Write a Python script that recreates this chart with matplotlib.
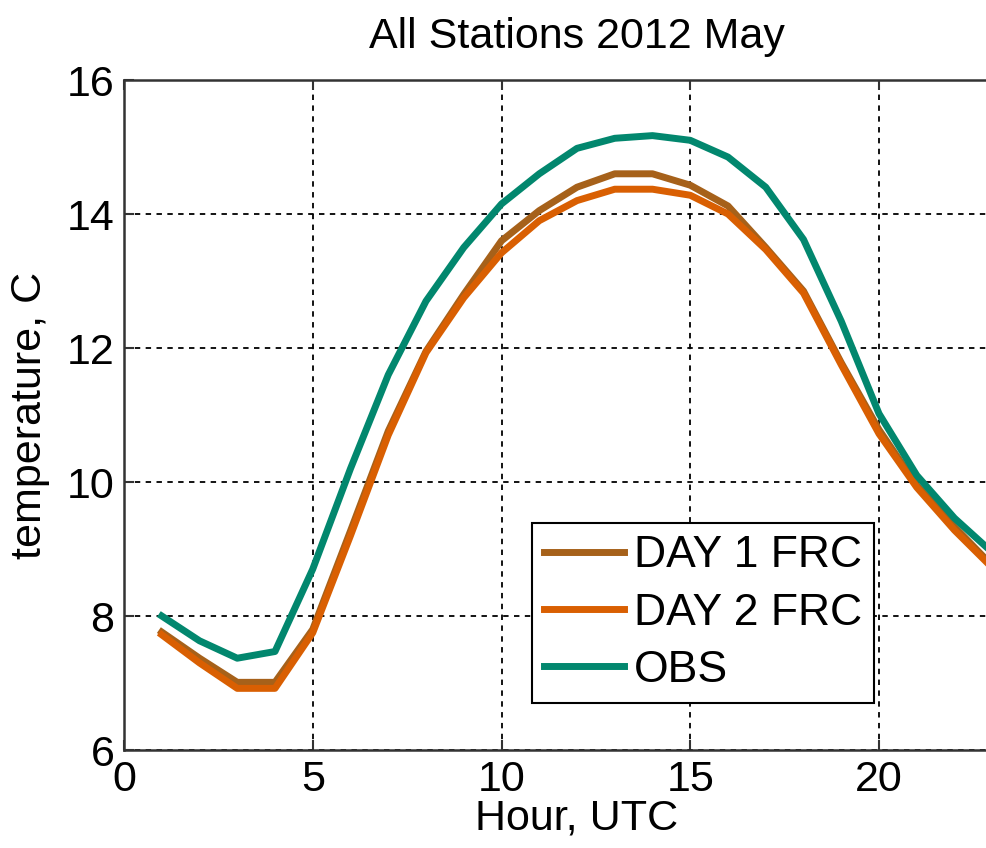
import numpy as np
import matplotlib
matplotlib.use('Agg')
import matplotlib.pyplot as plt

# ------------------------------------------------------------------------
# hourly mean temperature, all stations, May 2012
hours = [1, 2, 3, 4, 5, 6, 7, 8, 9, 10, 11, 12,
         13, 14, 15, 16, 17, 18, 19, 20, 21, 22, 23]

day1_frc = [7.76, 7.37, 7.01, 7.01, 7.80, 9.27, 10.76, 11.95, 12.80, 13.60, 14.05, 14.40,
            14.60, 14.60, 14.43, 14.12, 13.50, 12.85, 11.78, 10.78, 9.95, 9.33, 8.75]
day2_frc = [7.72, 7.30, 6.92, 6.92, 7.75, 9.20, 10.70, 11.93, 12.75, 13.42, 13.90, 14.20,
            14.37, 14.37, 14.28, 14.00, 13.47, 12.82, 11.75, 10.72, 9.92, 9.28, 8.72]
obs = [8.00, 7.63, 7.37, 7.47, 8.70, 10.20, 11.60, 12.70, 13.50, 14.15, 14.60, 14.98,
       15.13, 15.17, 15.10, 14.85, 14.40, 13.62, 12.40, 11.02, 10.10, 9.46, 8.95]

xticks = [0, 5, 10, 15, 20]
yticks = [6, 8, 10, 12, 14, 16]

plt.rcParams['font.family'] = ['Liberation Sans', 'DejaVu Sans']

fig = plt.figure(figsize=(9.86, 8.48), dpi=100)
# axes runs off the right edge of the figure
ax = fig.add_axes([124/986, 98/848, 906/986, 670/848])

lw = 5
ax.plot(hours, day1_frc, color='#A6611A', lw=lw, label='DAY 1 FRC')
ax.plot(hours, day2_frc, color='#D95F02', lw=lw, label='DAY 2 FRC')
ax.plot(hours, obs, color='#02876E', lw=lw, label='OBS')

fs = 31
ax.set_xlim(0, 24)
ax.set_ylim(6, 16)
ax.set_xticks(xticks)
ax.set_yticks(yticks)
ax.tick_params(direction='in', length=7, width=1.5, labelsize=fs,
               top=True, right=True, color='#333333')
ax.tick_params(axis='x', pad=7)
ax.tick_params(axis='y', pad=7)
for s in ax.spines.values():
    s.set_linewidth(1.8)
    s.set_color('#333333')

ax.grid(True, color='black', linestyle=(0, (3, 3)), linewidth=1.3)
ax.set_axisbelow(True)

ax.set_title('All Stations 2012 May', fontsize=fs, pad=23)
ax.set_xlabel('Hour, UTC', fontsize=fs, labelpad=-1)
ax.set_ylabel('temperature, C', fontsize=fs, labelpad=12)

leg = ax.legend(loc='lower left', bbox_to_anchor=((532-124)/906, (750-703)/670),
                fontsize=32, frameon=True, fancybox=False, edgecolor='black',
                framealpha=1, handlelength=1.8, handletextpad=0.22,
                labelspacing=0.37, borderpad=0.27, borderaxespad=0)
leg.get_frame().set_linewidth(1.5)

fig.savefig('out.png', dpi=100)
